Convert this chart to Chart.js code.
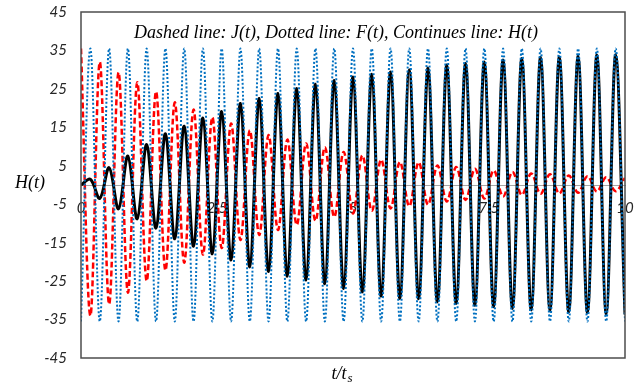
<!DOCTYPE html>
<html>
<head>
<meta charset="utf-8">
<script src="https://cdn.jsdelivr.net/npm/chart.js@4"></script>
<style>
  body { margin: 0; background: #fff; }
  #wrap { width: 638px; height: 386px; }
</style>
</head>
<body>
<div id="wrap"><canvas id="myChart" width="638" height="386"></canvas></div>
<script>
// times of the turning points (t/ts)
const tValues = [0, 0.172, 0.345, 0.517, 0.690, 0.862, 1.034, 1.207, 1.379, 1.552,
  1.724, 1.897, 2.069, 2.241, 2.414, 2.586, 2.759, 2.931, 3.103, 3.276,
  3.448, 3.621, 3.793, 3.966, 4.138, 4.310, 4.483, 4.655, 4.828, 5.000,
  5.172, 5.345, 5.517, 5.690, 5.862, 6.034, 6.207, 6.379, 6.552, 6.724,
  6.897, 7.069, 7.241, 7.414, 7.586, 7.759, 7.931, 8.103, 8.276, 8.448,
  8.621, 8.793, 8.966, 9.138, 9.310, 9.483, 9.655, 9.828, 10.000];

// dotted line F(t)
const fValues = [-35.5, 35.5, -35.5, 35.5, -35.5, 35.5, -35.5, 35.5, -35.5, 35.5,
  -35.5, 35.5, -35.5, 35.5, -35.5, 35.5, -35.5, 35.5, -35.5, 35.5,
  -35.5, 35.5, -35.5, 35.5, -35.5, 35.5, -35.5, 35.5, -35.5, 35.5,
  -35.5, 35.5, -35.5, 35.5, -35.5, 35.5, -35.5, 35.5, -35.5, 35.5,
  -35.5, 35.5, -35.5, 35.5, -35.5, 35.5, -35.5, 35.5, -35.5, 35.5,
  -35.5, 35.5, -35.5, 35.5, -35.5, 35.5, -35.5, 35.5, -35.5];

// dashed line J(t)
const jValues = [35.5, -34.0, 32.0, -31.0, 29.3, -28.0, 26.7, -25.0, 24.3, -22.2,
  21.5, -20.2, 19.6, -18.1, 17.6, -16.4, 16.0, -14.3, 14.2, -13.0,
  13.0, -11.7, 11.8, -10.4, 10.8, -9.3, 9.8, -8.3, 8.6, -7.4,
  7.7, -6.7, 6.6, -6.1, 6.0, -5.5, 5.9, -5.1, 5.1, -4.3,
  4.7, -3.9, 4.2, -3.5, 3.8, -3.0, 3.4, -2.6, 3.0, -2.3,
  2.8, -2.2, 2.5, -2.0, 2.3, -1.7, 2.0, -1.6, 1.8];

// continuous line H(t)
const hValues = [0, 1.5, -3.5, 4.5, -6.2, 7.5, -8.8, 10.5, -11.2, 13.3,
  -14.0, 15.3, -15.9, 17.4, -17.9, 19.1, -19.5, 21.2, -21.3, 22.5,
  -22.5, 23.8, -23.7, 25.1, -24.7, 26.2, -25.7, 27.2, -26.9, 28.1,
  -27.8, 28.8, -28.9, 29.4, -29.5, 30.0, -29.6, 30.4, -30.4, 31.2,
  -30.8, 31.6, -31.3, 32.0, -31.7, 32.5, -32.1, 32.9, -32.5, 33.2,
  -32.7, 33.3, -33.0, 33.5, -33.2, 33.8, -33.5, 33.9, -33.7];

const xTicks = [0, 2.5, 5, 7.5, 10];
const yTicks = [-45, -35, -25, -15, -5, 5, 15, 25, 35, 45];

const toPoints = (vals) => tValues.map((t, i) => ({ x: t, y: vals[i] }));

const tickFont = { family: 'Lato', style: 'italic', size: 15 };

// frame, title and axis names
const textPlugin = {
  id: 'texts',
  afterDraw(chart) {
    const ctx = chart.ctx;
    const a = chart.chartArea;
    ctx.save();
    ctx.strokeStyle = '#4d4d4d';
    ctx.lineWidth = 1.5;
    ctx.strokeRect(a.left, a.top, a.right - a.left, a.bottom - a.top);

    ctx.fillStyle = '#000';
    ctx.textBaseline = 'middle';
    ctx.textAlign = 'center';
    ctx.font = 'italic 18px "Liberation Serif"';
    ctx.fillText('Dashed line: J(t), Dotted line: F(t), Continues line: H(t)', 336, 33);

    ctx.font = 'italic 18px "Liberation Serif"';
    ctx.fillText('H(t)', 30, 183);

    // t/ts with subscript
    ctx.textAlign = 'left';
    const w = ctx.measureText('t/t').width;
    const x0 = 342 - (w + 6) / 2;
    ctx.fillText('t/t', x0, 374);
    ctx.font = 'italic 13px "Liberation Serif"';
    ctx.fillText('s', x0 + w + 1, 379);
    ctx.restore();
  }
};

const config = {
  type: 'line',
  data: {
    datasets: [{
      label: 'F(t)',
      data: toPoints(fValues),
      borderColor: '#0070c0',
      borderWidth: 2,
      borderDash: [2, 2],
      pointRadius: 0,
      tension: 0.36
    }, {
      label: 'H(t)',
      data: toPoints(hValues),
      borderColor: '#000000',
      borderWidth: 3,
      pointRadius: 0,
      tension: 0.36
    }, {
      label: 'J(t)',
      data: toPoints(jValues),
      borderColor: '#ff0000',
      borderWidth: 2.5,
      borderDash: [6, 3],
      pointRadius: 0,
      tension: 0.36
    }]
  },
  options: {
    responsive: false,
    animation: false,
    devicePixelRatio: 1,
    layout: { padding: { left: 0, top: 12, right: 13, bottom: 28 } },
    plugins: {
      legend: { display: false },
      tooltip: { enabled: false }
    },
    scales: {
      x: {
        type: 'linear',
        min: 0,
        max: 10,
        position: { y: 0 },
        afterBuildTicks: (scale) => { scale.ticks = xTicks.map(v => ({ value: v })); },
        afterFit: (scale) => { scale.paddingLeft = 0; scale.paddingRight = 0; },
        grid: { display: false, drawTicks: false },
        border: { display: true, color: '#a6a6a6', width: 1 },
        ticks: {
          autoSkip: false,
          maxRotation: 0,
          padding: 14,
          color: '#262626',
          font: tickFont,
          callback: (v) => String(v)
        }
      },
      y: {
        type: 'linear',
        min: -45,
        max: 45,
        afterBuildTicks: (scale) => { scale.ticks = yTicks.map(v => ({ value: v })); },
        afterFit: (scale) => {
          scale.width = 81;
          scale.paddingTop = 0;
          scale.paddingBottom = 0;
        },
        grid: { display: false, drawTicks: false },
        border: { display: false },
        ticks: {
          padding: 14,
          color: '#262626',
          font: tickFont,
          callback: (v) => String(v)
        }
      }
    }
  },
  plugins: [textPlugin]
};

window.addEventListener('DOMContentLoaded', () => {
  new Chart(document.getElementById('myChart'), config);
});
</script>
</body>
</html>
